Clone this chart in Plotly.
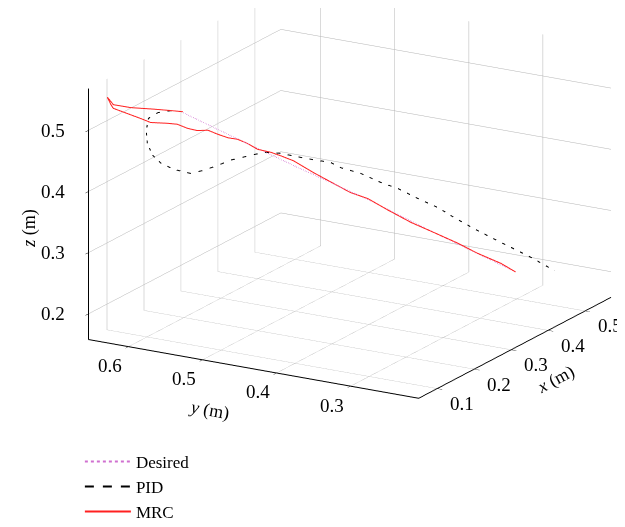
import plotly.graph_objects as go

# trajectories (m)
des_x = [0.154, 0.202, 0.273, 0.344, 0.409, 0.492]
des_y = [0.578, 0.538, 0.479, 0.420, 0.367, 0.298]
des_z = [0.512, 0.468, 0.404, 0.342, 0.281, 0.205]

pid_x = [0.153, 0.141, 0.128, 0.118, 0.116, 0.117, 0.123, 0.131, 0.144, 0.161, 0.174, 0.189, 0.202,
         0.219, 0.236, 0.253, 0.270, 0.286, 0.304, 0.314, 0.334, 0.355, 0.372, 0.392, 0.413, 0.429,
         0.449, 0.467, 0.487, 0.507, 0.531]
pid_y = [0.578, 0.589, 0.599, 0.607, 0.609, 0.608, 0.604, 0.597, 0.586, 0.572, 0.561, 0.549, 0.538,
         0.524, 0.510, 0.496, 0.481, 0.468, 0.454, 0.445, 0.428, 0.411, 0.397, 0.380, 0.363, 0.350,
         0.333, 0.319, 0.302, 0.285, 0.265]
pid_z = [0.514, 0.517, 0.516, 0.508, 0.488, 0.467, 0.447, 0.433, 0.421, 0.412, 0.415, 0.421, 0.428,
         0.432, 0.436, 0.432, 0.424, 0.417, 0.410, 0.400, 0.388, 0.370, 0.358, 0.339, 0.321, 0.303,
         0.282, 0.265, 0.246, 0.227, 0.202]

mrc_x = [0.153, 0.139, 0.124, 0.100, 0.083, 0.077, 0.080, 0.083, 0.110, 0.120, 0.138, 0.148, 0.158,
         0.168, 0.179, 0.189, 0.199, 0.209, 0.219, 0.229, 0.243, 0.253, 0.266, 0.286, 0.307, 0.324,
         0.341, 0.362, 0.385, 0.409, 0.433, 0.453, 0.477, 0.492]
mrc_y = [0.578, 0.590, 0.603, 0.622, 0.637, 0.642, 0.639, 0.637, 0.614, 0.605, 0.591, 0.583, 0.574,
         0.566, 0.557, 0.549, 0.540, 0.532, 0.524, 0.515, 0.504, 0.496, 0.485, 0.468, 0.451, 0.437,
         0.422, 0.405, 0.386, 0.367, 0.346, 0.330, 0.310, 0.298]
mrc_z = [0.514, 0.518, 0.522, 0.528, 0.535, 0.548, 0.536, 0.529, 0.509, 0.501, 0.497, 0.494, 0.486,
         0.481, 0.480, 0.472, 0.465, 0.461, 0.453, 0.442, 0.435, 0.428, 0.418, 0.396, 0.375, 0.358,
         0.346, 0.324, 0.301, 0.281, 0.260, 0.241, 0.221, 0.205]

x_ticks = [0.1, 0.2, 0.3, 0.4, 0.5]
y_ticks = [0.3, 0.4, 0.5, 0.6]
z_ticks = [0.2, 0.3, 0.4, 0.5]

x_range = [0.05, 0.57]
y_range = [0.208, 0.654]
z_range = [0.158, 0.568]

serif = "Liberation Serif"

fig = go.Figure()
fig.add_trace(go.Scatter3d(x=des_x, y=des_y, z=des_z, mode="lines", name="Desired",
                           line=dict(color="#d070d0", width=2, dash="dot")))
fig.add_trace(go.Scatter3d(x=pid_x, y=pid_y, z=pid_z, mode="lines", name="PID",
                           line=dict(color="black", width=2, dash="dash")))
fig.add_trace(go.Scatter3d(x=mrc_x, y=mrc_y, z=mrc_z, mode="lines", name="MRC",
                           line=dict(color="#ff2020", width=2)))


def ax(rng, ticks):
    return dict(title=dict(text=""), range=rng, tickvals=ticks,
                showticklabels=False, ticks="outside", ticklen=6, tickcolor="black",
                showline=True, linecolor="black", linewidth=2,
                showgrid=True, gridcolor="#b4b4b4", gridwidth=1,
                zeroline=False, showbackground=False, showspikes=False)


# tick labels and axis titles as scene annotations (upright, like the original)
tick_font = dict(family=serif, size=19, color="black")
title_font = dict(family=serif, size=18, color="black")
notes = []
for t in x_ticks:
    notes.append(dict(x=t, y=y_range[0], z=z_range[0], text=f"{t:.1f}", xshift=25, yshift=-15, font=tick_font))
for t in y_ticks:
    notes.append(dict(x=x_range[0], y=t, z=z_range[0], text=f"{t:.1f}", xshift=-19, yshift=-19, font=tick_font))
for t in z_ticks:
    notes.append(dict(x=x_range[0], y=y_range[1], z=t, text=f"{t:.1f}", xshift=-36, yshift=0, font=tick_font))
notes += [
    dict(x=0.353, y=y_range[0], z=z_range[0], text="<i>x</i> (m)", textangle=-28, xshift=25, yshift=-40, font=title_font),
    dict(x=x_range[0], y=0.49, z=z_range[0], text="<i>y</i> (m)", textangle=10, xshift=0, yshift=-49, font=title_font),
    dict(x=x_range[0], y=y_range[1], z=0.34, text="<i>z</i> (m)", textangle=-90, xshift=-59, yshift=0, font=title_font),
]
for a in notes:
    a.update(showarrow=False)

fig.update_layout(
    width=625, height=527,
    margin=dict(l=0, r=0, t=0, b=0),
    paper_bgcolor="white",
    font=dict(family=serif, size=17, color="black"),
    scene=dict(
        domain=dict(x=[0, 1], y=[0, 1]),
        xaxis=ax(x_range, x_ticks),
        yaxis=ax(y_range, y_ticks),
        zaxis=ax(z_range, z_ticks),
        aspectmode="manual",
        aspectratio=dict(x=1.45, y=1.45, z=1.0),
        camera=dict(projection=dict(type="orthographic"),
                    eye=dict(x=-1.6041, y=-0.8057, z=0.2622),
                    center=dict(x=0.0409, y=0.1523, z=-0.3488),
                    up=dict(x=0, y=0, z=1)),
        annotations=notes,
    ),
    legend=dict(x=0.115, y=0.173, xanchor="left", yanchor="top", itemwidth=46,
                font=dict(family=serif, size=17, color="black"),
                bgcolor="rgba(0,0,0,0)", tracegroupgap=0),
)

fig.write_html("out.html")
